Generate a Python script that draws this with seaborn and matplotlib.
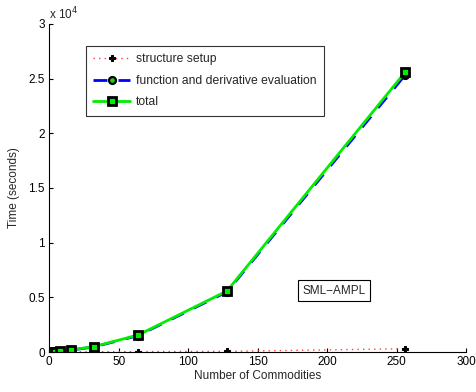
import numpy as np
import pandas as pd
import matplotlib
matplotlib.use("Agg")
import matplotlib.pyplot as plt
import seaborn as sns

commodities = [2, 4, 8, 16, 32, 64, 128, 256]
setup_time = [5, 8, 12, 18, 25, 40, 60, 300]
eval_time = [12, 25, 55, 180, 460, 1500, 5500, 25300]
total_time = [17, 33, 67, 200, 490, 1550, 5580, 25560]

sns.set_style("white")
plt.rcParams['font.family'] = ['Liberation Sans', 'DejaVu Sans']
plt.rcParams['font.size'] = 8.5

fig = plt.figure(figsize=(4.77, 3.92), dpi=100)
ax = fig.add_axes([0.103, 0.102, 0.874, 0.837])

df = pd.DataFrame({"x": commodities, "setup": setup_time,
                   "eval": eval_time, "total": total_time})

sns.lineplot(data=df, x="x", y="setup", ax=ax, color="#ff4040",
             linestyle=(0, (1, 3)), linewidth=1, marker="P", markersize=5,
             markerfacecolor="black", markeredgecolor="black",
             label="structure setup")
sns.lineplot(data=df, x="x", y="eval", ax=ax, color="blue",
             linestyle=(0, (5, 4)), linewidth=2, marker="o", markersize=5,
             markerfacecolor="#22cc22", markeredgecolor="black",
             markeredgewidth=1.6, label="function and derivative evaluation")
sns.lineplot(data=df, x="x", y="total", ax=ax, color="#00ee00",
             linestyle="-", linewidth=2, marker="s", markersize=5.5,
             markerfacecolor="#00ee00", markeredgecolor="black",
             markeredgewidth=2.0, label="total")

ax.set_xlim(0, 300)
ax.set_ylim(0, 30000)
ax.set_xticks(np.arange(0, 301, 50))
ax.set_yticks(np.arange(0, 30001, 5000))
ax.set_yticklabels(["0", "0.5", "1", "1.5", "2", "2.5", "3"])
ax.tick_params(direction="in", length=3, width=0.8, colors="black",
               labelsize=8.5, pad=3)
ax.tick_params(axis="both", which="both", bottom=True, left=True)
for s in ["top", "right"]:
    ax.spines[s].set_visible(False)
for s in ["left", "bottom"]:
    ax.spines[s].set_color("black")
    ax.spines[s].set_linewidth(0.8)

ax.set_xlabel("Number of Commodities", fontsize=8.5, labelpad=1)
ax.set_ylabel("Time (seconds)", fontsize=8.5, labelpad=6)
ax.text(0.0, 1.005, r"x 10$^4$", transform=ax.transAxes, fontsize=8.5,
        ha="left", va="bottom")

ax.text(205, 5600, "SML\u2212AMPL", fontsize=8.5, ha="center", va="center",
        bbox=dict(boxstyle="square,pad=0.4", facecolor="white",
                  edgecolor="black", linewidth=0.8))

leg = ax.legend(loc="upper left", bbox_to_anchor=(0.089, 0.933), fontsize=8.7,
                frameon=True, fancybox=False, edgecolor="black",
                handlelength=3.0, handletextpad=0.5, borderpad=0.6,
                labelspacing=0.8, borderaxespad=0)
leg.get_frame().set_linewidth(0.8)

fig.savefig("out.png", dpi=100)
